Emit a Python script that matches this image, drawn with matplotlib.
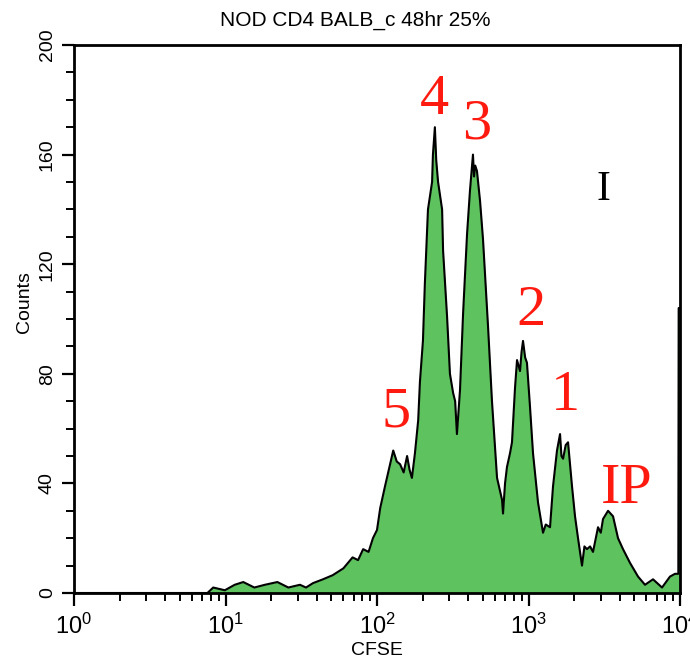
import matplotlib
matplotlib.use('Agg')
import matplotlib.pyplot as plt
from matplotlib.ticker import FixedLocator, NullFormatter

# CFSE channel values and counts
cfse = [1.0, 3.2, 7.6, 8.3, 9.9, 11.5, 13.1, 15.5, 18.2, 22, 26, 31, 34, 37.8, 44, 51, 60,
        69, 75, 81, 88, 94, 100, 105, 113, 122, 128, 135, 142, 150, 158, 164, 170, 178, 187, 192,
        201, 207, 217, 231, 234, 241, 246, 253, 269, 273, 290, 303, 318, 328, 337, 353, 370,
        393, 411, 430, 437, 445, 457, 479, 501, 541, 574, 620, 669, 679, 700, 721, 755,
        778, 815, 840, 879, 900, 920, 950, 977, 1023, 1071, 1156, 1247, 1300, 1387, 1452,
        1542, 1615, 1650, 1691, 1760, 1824, 1937, 2028, 2123, 2255, 2340, 2432, 2550, 2666, 2877,
        3000, 3104, 3350, 3614, 3899, 4207, 4677, 5284, 5875, 6637, 7610, 8590, 9270, 9750,
        9800, 10000]
counts = [0, 0, 0, 2, 1, 3, 4, 2, 3, 4, 2, 3, 2, 3.6, 5, 6.5, 9,
          13, 12, 16, 15, 20, 23, 31, 39, 47, 52, 48, 47, 44, 50, 45, 42, 51, 63, 77,
          92, 113, 140, 150, 160, 170, 158, 150, 140, 125, 101, 80, 73, 70, 58, 74, 102,
          131, 147, 160, 152, 156, 154, 143, 129, 97, 70, 42, 34, 29, 40, 46, 51,
          55, 75, 85, 81, 88, 92, 86, 84, 68, 51, 33, 22, 25, 24, 39,
          52, 58, 50, 49, 54, 55, 39, 28, 20, 10, 17, 16, 17, 15, 24,
          22, 27, 30, 28, 20, 16, 11, 6, 3, 5, 2, 6, 7, 7,
          104, 104]

title = 'NOD CD4 BALB_c 48hr 25%'
peak_labels = ['5', '4', '3', '2', '1', 'IP']
label_x = [133, 238, 457, 1040, 1742, 4470]
label_y = [66, 180, 171, 103, 72, 38]

sans = ['Liberation Sans', 'DejaVu Sans']
plt.rcParams['font.family'] = sans
plt.rcParams['mathtext.fontset'] = 'custom'
plt.rcParams['mathtext.rm'] = 'Liberation Sans'

fig = plt.figure(figsize=(6.9, 6.69), dpi=100)
ax = fig.add_axes([74/690, 1-593/669, (680-74)/690, (593-45)/669])

ax.fill_between(cfse, counts, color='#5ec25e', linewidth=0)
ax.plot(cfse, counts, color='black', lw=1.5)

ax.set_xscale('log')
ax.set_xlim(1, 10000)
ax.set_ylim(0, 200)

ax.set_xticks([1, 10, 100, 1000, 10000])
ax.set_xticklabels([r'$\mathregular{10^{%d}}$' % i for i in range(5)])
minors = [m * 10**d for d in range(4) for m in range(2, 10)]
ax.xaxis.set_minor_locator(FixedLocator(minors))
ax.xaxis.set_minor_formatter(NullFormatter())

ax.set_yticks([0, 40, 80, 120, 160, 200])
ax.set_yticks(range(0, 201, 10), minor=True)
for lab in ax.get_yticklabels():
  lab.set_rotation(90)
  lab.set_va('center')

ax.tick_params(which='major', length=9, width=1.6, labelsize=17, direction='out')
ax.tick_params(which='minor', length=6, width=1.4, direction='out')
ax.tick_params(axis='x', pad=6)
ax.tick_params(axis='y', pad=4, labelsize=14)

for s in ax.spines.values():
  s.set_linewidth(2)

ax.set_xlabel('CFSE', fontsize=14, labelpad=2)
ax.set_ylabel('Counts', fontsize=14)
ax.yaxis.set_label_coords(-0.068, 0.53)
fig.text(355/690, 1-20/669, title, ha='center', va='center', fontsize=15)

for t, xv, yv in zip(peak_labels, label_x, label_y):
  ax.text(xv, yv, t, color='#ff1a10', fontsize=42, family='Liberation Serif',
          ha='center', va='center')
ax.text(3100, 147, 'I', color='black', fontsize=30, family='Liberation Serif',
        ha='center', va='center')

fig.savefig('out.png', dpi=100)
